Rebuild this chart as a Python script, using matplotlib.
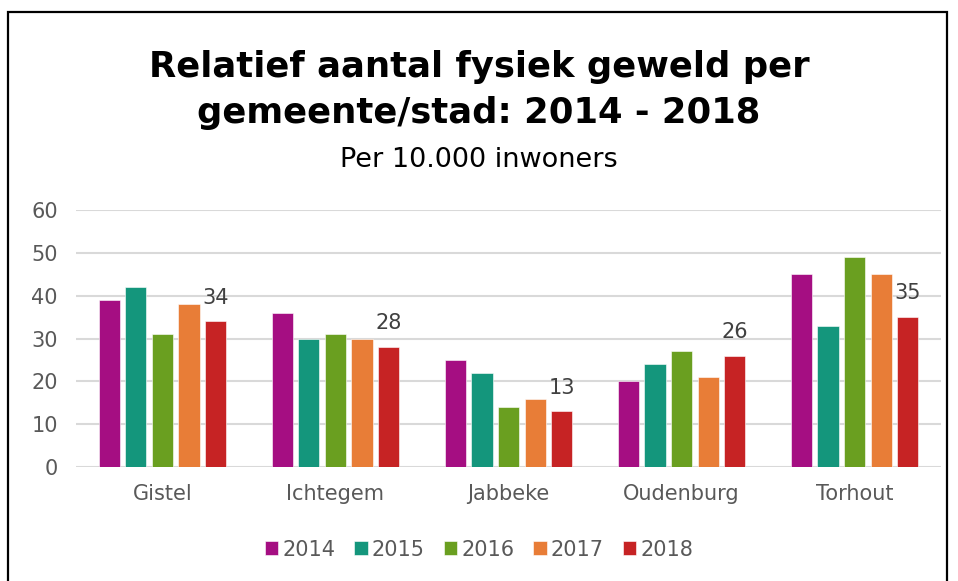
import matplotlib.pyplot as plt
import numpy as np
from matplotlib.patches import Rectangle

gemeenten = ["Gistel", "Ichtegem", "Jabbeke", "Oudenburg", "Torhout"]
jaren = ["2014", "2015", "2016", "2017", "2018"]
v2014 = [39, 36, 25, 20, 45]
v2015 = [42, 30, 22, 24, 33]
v2016 = [31, 31, 14, 27, 49]
v2017 = [38, 30, 16, 21, 45]
v2018 = [34, 28, 13, 26, 35]
reeksen = [v2014, v2015, v2016, v2017, v2018]
kleuren = ["#A50E82", "#14967C", "#6A9F20", "#E87D37", "#C62324"]

fig = plt.figure(figsize=(9.58, 5.81), dpi=100)
ax = fig.add_axes([0.0793, 0.196, 0.903, 0.4425])

x = np.arange(len(gemeenten))
pitch = 0.154
breedte = 0.123
for i, (vals, kleur, jaar) in enumerate(zip(reeksen, kleuren, jaren)):
    pos = x + (i - 2) * pitch
    bars = ax.bar(pos, vals, breedte, color=kleur, label=jaar, zorder=3,
                  edgecolor="white", linewidth=0.4)
    if jaar == "2018":
        for b, v in zip(bars, vals):
            ax.text(b.get_x() + b.get_width() / 2, v + 3.2, str(v),
                    ha="center", va="bottom", fontsize=15, color="#404040")

ax.set_xlim(-0.5, 4.5)
ax.set_ylim(0, 60)
ax.set_yticks(range(0, 61, 10))
ax.yaxis.grid(True, color="#d9d9d9", linewidth=1.5, zorder=0)
ax.set_axisbelow(True)
for s in ax.spines.values():
    s.set_visible(False)
ax.tick_params(axis="both", length=0, labelsize=15, colors="#595959")
ax.tick_params(axis="y", pad=13)
ax.set_xticks(x)
ax.set_xticklabels(gemeenten)
ax.tick_params(axis="x", pad=12)

fig.text(0.5, 0.845, "Relatief aantal fysiek geweld per\ngemeente/stad: 2014 - 2018",
         ha="center", va="center", fontsize=25.5, fontweight="bold",
         color="black", linespacing=1.45)
fig.text(0.5, 0.725, "Per 10.000 inwoners", ha="center", va="center",
         fontsize=19.5, color="black")

fig.legend(loc="center", bbox_to_anchor=(0.5, 0.054), ncol=5, frameon=False,
           fontsize=15, handlelength=0.65, handleheight=0.65,
           handletextpad=0.2, columnspacing=0.9, labelcolor="#595959")

fig.patches.append(Rectangle((8 / 958, -0.01), 939 / 958, 1 - 12 / 581 + 0.01,
                             transform=fig.transFigure, fill=False,
                             edgecolor="black", linewidth=1.6))

fig.savefig("out.png", dpi=100)
